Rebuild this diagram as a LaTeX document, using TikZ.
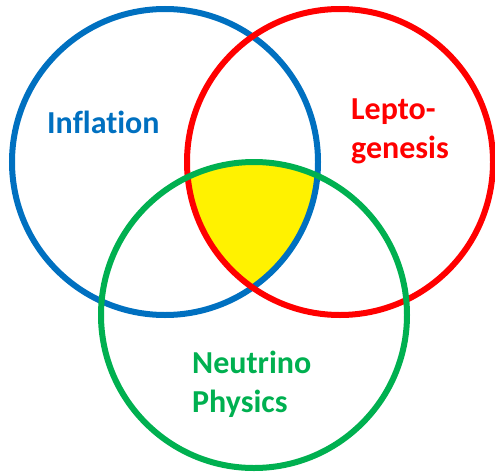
\documentclass[tikz,border=0pt]{standalone}
\usepackage{fontspec}
\setmainfont{Carlito}[Ligatures=NoCommon]
\definecolor{cblue}{RGB}{0,112,192}
\definecolor{cred}{RGB}{255,0,0}
\definecolor{cgreen}{RGB}{0,176,80}
\begin{document}
\begin{tikzpicture}[x=1pt,y=-1pt,
  ring/.style={line width=6pt},
  lbl/.style={font=\fontsize{32}{38}\selectfont\bfseries, inner sep=0pt, anchor=base west}]
\useasboundingbox (0,0) rectangle (495,471);
\begin{scope}
  \clip (165,162) circle[radius=153];
  \clip (340,162) circle[radius=153];
  \fill[yellow] (254,315) circle[radius=153];
\end{scope}
\draw[ring, cblue] (165,162) circle[radius=153];
\draw[ring, cred] (340,162) circle[radius=153];
\draw[ring, cgreen] (254,315) circle[radius=153];
\node[lbl, text=cblue] (infl) at (47,133) {Inflation};
\node[lbl, text=cred] (lep1) at (351,119) {Lepto-};
\node[lbl, text=cred] (lep2) at (351,158) {genesis};
\node[lbl, text=cgreen] (neu1) at (192,373) {Neutrino};
\node[lbl, text=cgreen] (neu2) at (192,412) {Physics};
\end{tikzpicture}
\end{document}
